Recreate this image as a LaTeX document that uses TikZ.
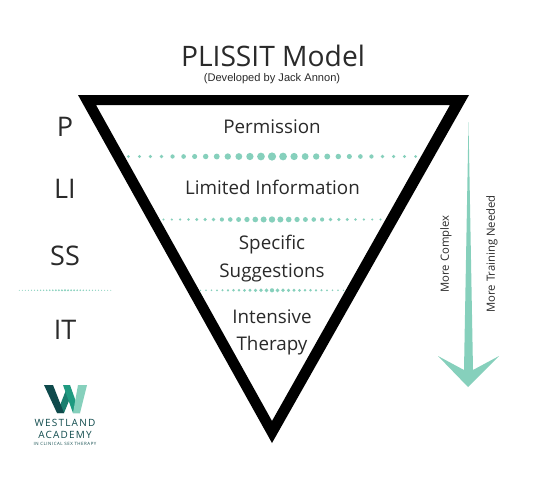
\documentclass[tikz,border=0pt]{standalone}
\usepackage{fontspec}
\setmainfont{Open Sans}
\newfontfamily\arialf{Liberation Sans}
\usetikzlibrary{calc}
\definecolor{mint}{HTML}{86D0BC}
\definecolor{ink}{HTML}{2A2A2A}
\definecolor{wdark}{HTML}{0F4A4C}
\definecolor{wmid}{HTML}{1F9A80}
\definecolor{wlight}{HTML}{86D0BC}
\tikzset{
  label/.style={text=ink,inner sep=0pt,align=center,font=\fontsize{18.8}{27.5}\selectfont},
  side/.style={text=ink,inner sep=0pt,font=\fontsize{27}{30}\selectfont},
  vert/.style={text=ink,inner sep=0pt,rotate=90,font=\fontsize{11.3}{13}\selectfont},
  logo/.style={text=wdark,inner sep=0pt,font=\addfontfeatures{LetterSpace=12}\fontsize{10}{11}\selectfont},
}
% \dotrow{centre x}{y}{half count}{spacing}{min r}{max r}
\newcommand{\dotrow}[6]{%
  \foreach \i in {-#3,...,#3}{%
    \pgfmathsetmacro{\rr}{#5+(#6-#5)*(1-abs(\i)/#3)^1.2}%
    \fill[mint] ({#1+\i*#4},#2) circle (\rr);
  }}
\begin{document}
\begin{tikzpicture}[x=1pt,y=-1pt]
\useasboundingbox (0,0) rectangle (541,483);
\fill[white] (0,0) rectangle (541,483);
% triangle
\fill[black,even odd rule] (78,95) -- (469,95) -- (272,443) -- cycle
  (96,105) -- (450,105) -- (272,421) -- cycle;
% title
\node[inner sep=0pt,text=ink,font=\fontsize{28.2}{30}\selectfont] (title) at (273,56) {PLISSIT Model};
\node[inner sep=0pt,text=ink,font=\arialf\fontsize{11.1}{12}\selectfont] (sub) at (272,78.5) {(Developed by Jack Annon)};
% labels
\node[label] (perm) at (272,127) {Permission};
\node[label] (lim) at (272.5,187.5) {Limited Information};
\node[label] (spec) at (272,258.5) {Specific\\Suggestions};
\node[label] (int) at (272,332.5) {Intensive\\Therapy};
\node[side] (p) at (65,127) {P};
\node[side] (li) at (65,189) {LI};
\node[side] (ss) at (65,256) {SS};
\node[side] (it) at (65,330) {IT};
% dotted rows
\dotrow{272}{156.5}{13}{11.05}{1.5}{4.1}
\dotrow{272}{219.5}{13}{8.35}{1.1}{3.2}
\dotrow{272}{290.3}{13}{5.5}{0.8}{2.1}
\dotrow{65}{290.3}{15}{3.05}{0.5}{1.1}
% arrow
\fill[mint] (468.5,122) -- (473,370) -- (499,356) -- (468,387) -- (438,356) -- (464,370) -- cycle;
\node[vert] (complex) at (446,254) {More Complex};
\node[vert] (training) at (492,254) {More Training Needed};
% logo
\fill[wmid!65!wdark] (57,413) -- (64,413) -- (71,396) -- (66,390) -- cycle;
\fill[wdark] (44,385) -- (53,385) -- (64,413) -- (57,413) -- cycle;
\fill[wmid] (63,385) -- (70,385) -- (80,413) -- (73,413) -- cycle;
\fill[wlight] (73,413) -- (80,413) -- (87,385) -- (78,385) -- cycle;
\node[logo] (west) at (65,423) {WESTLAND};
\node[logo] (acad) at (65,434.5) {ACADEMY};
\node[inner sep=0pt,text=wdark,font=\addfontfeatures{LetterSpace=12}\fontsize{4.4}{5}\selectfont] (tiny) at (65,444) {IN CLINICAL SEX THERAPY};
\end{tikzpicture}
\end{document}
